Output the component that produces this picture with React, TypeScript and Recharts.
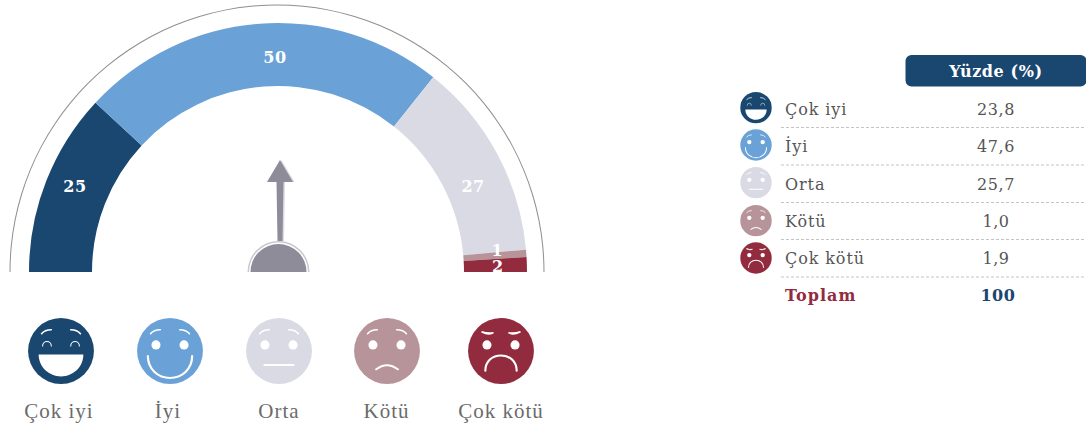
import { Pie, PieChart } from 'recharts'

const gaugeValues = [25, 50, 27, 1, 2]
const gaugeColors = ['#19476F', '#6AA2D7', '#DADAE4', '#B79499', '#922B3E']
const categories = ['Çok iyi', 'İyi', 'Orta', 'Kötü', 'Çok kötü']
const percents = ['23,8', '47,6', '25,7', '1,0', '1,9']
const totalLabel = 'Toplam'
const totalValue = '100'
const headerLabel = 'Yüzde (%)'

const gaugeData = gaugeValues.map((value, i) => ({ name: categories[i], value, fill: gaugeColors[i] }))

const CX = 278
const CY = 272
const serif = '"Liberation Serif", serif'
const tableFont = '"DejaVu Serif", serif'

const bigFaceX = [61, 170, 279, 387, 501]
const bigLabelX = [59, 168, 279, 386.5, 501]
const rowY = [107.7, 145, 182.7, 220.7, 258]
const valueY = [115, 152, 190, 227, 264]
const ruleY = [127.5, 165, 202.5, 239.5, 277]
// hand offsets for the slice labels, they are not centred on their slices
const labelShift = [[-1, -6], [13, 0], [4, 17], [3, -5], [3, 1]]

function Face({ kind, x, y, sx, sy }: { kind: number; x: number; y: number; sx: number; sy: number }) {
  const w = { fill: 'none', stroke: '#fff', strokeWidth: 1.5, strokeLinecap: 'round' as const }
  const sad = kind === 4
  return (
    <g transform={`translate(${x} ${y}) scale(${sx} ${sy})`}>
      <ellipse rx={30.5} ry={32.5} fill={gaugeColors[kind]} />
      {sad ? (
        <>
          <path d="M-18 -19 Q-11 -15 -7 -18 Q-12 -17 -18 -19Z" {...w} />
          <path d="M18 -19 Q11 -15 7 -18 Q12 -17 18 -19Z" {...w} />
        </>
      ) : (
        <>
          <path d="M-18 -17 Q-15 -21 -9 -21" {...w} />
          <path d="M18 -17 Q15 -21 9 -21" {...w} />
        </>
      )}
      {kind === 0 ? (
        <>
          <path d="M-17 -5 A4 4.4 0 0 1 -9 -5" {...w} strokeWidth={1} />
          <path d="M9 -5 A4 4.4 0 0 1 17 -5" {...w} strokeWidth={1} />
          <path d="M-20.7 3.5 H20.7 C20.7 16 11 25 0 25 C-11 25 -20.7 16 -20.7 3.5Z" fill="#fff" />
        </>
      ) : (
        <>
          <ellipse cx={-13} cy={-6} rx={4.2} ry={4.5} fill="#fff" />
          <ellipse cx={13} cy={-6} rx={4.2} ry={4.5} fill="#fff" />
        </>
      )}
      {kind === 1 && <path d="M-20.5 5 C-20.5 18 -11 26.5 0 26.5 C11 26.5 20.5 18 20.5 5" {...w} strokeWidth={2} />}
      {kind === 2 && <path d="M-13.5 13.7 H13.5" {...w} strokeWidth={2} />}
      {kind === 3 && <path d="M-10 18 Q0 10 10 18" {...w} strokeWidth={2} />}
      {kind === 4 && <path d="M-14.5 19.5 C-14.5 10 -8 4.5 0 4.5 C8 4.5 14.5 10 14.5 19.5" {...w} strokeWidth={2} />}
    </g>
  )
}

function gaugeLabel(props: any) {
  const { midAngle, value, index } = props
  const rad = (midAngle * Math.PI) / 180
  const r = index === 1 ? 215 : 217
  const [dx, dy] = labelShift[index]
  return (
    <text
      x={CX + r * Math.cos(rad) + dx}
      y={CY - r * Math.sin(rad) + dy}
      fill="#fff"
      textAnchor="middle"
      dominantBaseline="central"
      fontFamily={tableFont}
      fontWeight={700}
      fontSize={16}
      letterSpacing={0.5}
    >
      {value}
    </text>
  )
}

function Needle() {
  const head = 'M0 -112 L-13 -90 H-3.5 L-2.5 -31 H2.5 L3.5 -90 H13 Z'
  return (
    <g transform={`translate(${CX + 2} ${CY})`}>
      <path d={head} fill="#DADAE4" transform="translate(1.5 0)" />
      <path d={head} fill="#8E8C99" />
    </g>
  )
}

export default function App() {
  return (
    <div style={{ position: 'absolute', left: 0, top: 0, width: 1086, height: 429 }}>
      <PieChart width={1086} height={429} margin={{ top: 0, right: 0, bottom: 0, left: 0 }}>
        <Pie
          data={[{ value: 1 }]}
          dataKey="value"
          cx={CX - 1}
          cy={CY}
          startAngle={180}
          endAngle={0}
          innerRadius={266.5}
          outerRadius={267.5}
          fill="#8F8F8F"
          stroke="none"
          isAnimationActive={false}
        />
        <Pie
          data={gaugeData}
          dataKey="value"
          cx={CX}
          cy={CY}
          startAngle={180}
          endAngle={0}
          innerRadius={186}
          outerRadius={249}
          stroke="none"
          label={gaugeLabel}
          labelLine={false}
          isAnimationActive={false}
        />
        <Needle />
        <Pie
          data={[{ value: 1 }]}
          dataKey="value"
          cx={CX + 0.5}
          cy={CY}
          startAngle={180}
          endAngle={0}
          innerRadius={29.5}
          outerRadius={31}
          fill="#C9C9D2"
          stroke="none"
          isAnimationActive={false}
        />
        <Pie
          data={[{ value: 1 }]}
          dataKey="value"
          cx={CX + 0.5}
          cy={CY}
          startAngle={180}
          endAngle={0}
          innerRadius={0}
          outerRadius={28}
          fill="#8E8C99"
          stroke="none"
          isAnimationActive={false}
        />

        {categories.map((name, i) => (
          <g key={name}>
            <Face kind={i} x={bigFaceX[i]} y={351} sx={1.08} sy={1.015} />
            <text
              x={bigLabelX[i]}
              y={418}
              textAnchor="middle"
              fontFamily={serif}
              fontSize={21}
              fill="#6B6B6B"
              letterSpacing={1}
            >
              {name}
            </text>
          </g>
        ))}

        <rect x={905.5} y={55} width={181} height={31.5} rx={6} fill="#19476F" />
        <text
          x={996}
          y={76.5}
          textAnchor="middle"
          fontFamily={tableFont}
          fontWeight={700}
          fontSize={16}
          letterSpacing={0.6}
          fill="#fff"
        >
          {headerLabel}
        </text>
        {categories.map((name, i) => (
          <g key={name}>
            <Face kind={i} x={756} y={rowY[i]} sx={0.515} sy={0.482} />
            <text x={785} y={valueY[i]} fontFamily={tableFont} fontSize={16} fill="#555" letterSpacing={0.9}>
              {name}
            </text>
            <text
              x={996}
              y={valueY[i]}
              textAnchor="middle"
              fontFamily={tableFont}
              fontSize={16}
              letterSpacing={0.6}
              fill="#555"
            >
              {percents[i]}
            </text>
            <line x1={781} x2={1086} y1={ruleY[i]} y2={ruleY[i]} stroke="#C4C4C4" strokeDasharray="3 2" />
          </g>
        ))}
        <text x={785} y={301} fontFamily={tableFont} fontWeight={700} fontSize={16} letterSpacing={1} fill="#922B3E">
          {totalLabel}
        </text>
        <text
          x={998}
          y={301}
          textAnchor="middle"
          fontFamily={tableFont}
          fontWeight={700}
          fontSize={16}
          letterSpacing={0.6}
          fill="#19476F"
        >
          {totalValue}
        </text>
      </PieChart>
    </div>
  )
}
